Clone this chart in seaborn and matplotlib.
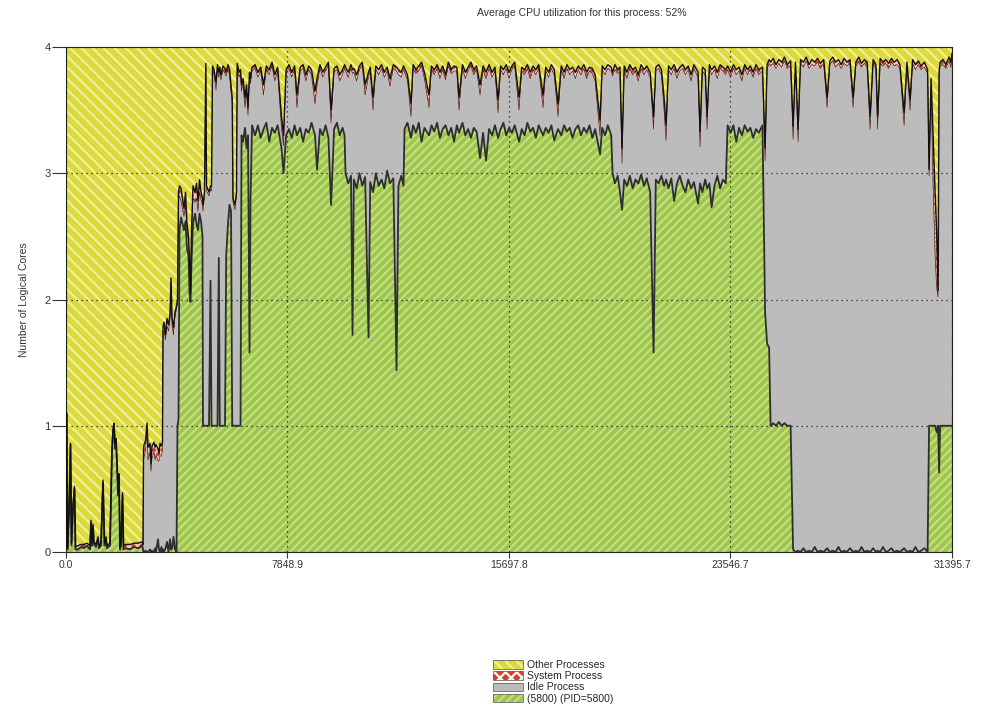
import numpy as np
import pandas as pd
import matplotlib
matplotlib.use("Agg")
import matplotlib.pyplot as plt
from matplotlib.patches import Patch
import seaborn as sns

# ---- data (time in s, values in logical cores) ----
# startup spikes / ramp-up / 1-core gaps / busy phases / idle tail
t_sec = (
    [0, 18, 53, 106, 159, 195, 248, 301, 337, 425,
     532, 638, 744, 851, 886, 921, 957, 992, 1063, 1134,
     1170, 1240, 1311, 1364, 1418, 1453, 1559, 1630, 1666, 1701,
     1737, 1772, 1807, 1843, 1878, 1914, 1949, 2002, 2038, 2126,
     2268, 2410, 2552, 2694]
    + [2729, 2747, 2764, 2817, 2871, 2906, 2977, 3012, 3048, 3119, 3154, 3190, 3260, 3296, 3331, 3384, 3420]
    + [3438, 3473, 3526, 3579, 3633, 3686, 3721, 3757, 3810, 3863, 3916]
    + [3951, 3987, 4022, 4076, 4129, 4182, 4235, 4288, 4341, 4377, 4412, 4448, 4501, 4572, 4625, 4678, 4731, 4784, 4837]
    + [4855, 4908, 4954, 4979, 5068, 5121, 5157, 5192, 5245, 5316,
       5369, 5415, 5451, 5493, 5564, 5635, 5677, 5741, 5794, 5848,
       5890, 5918, 5989, 6042, 6067, 6131, 6184, 6220, 6273, 6344,
       6397, 6450, 6503, 6539, 6592]
    + [6700, 6800, 6900, 7000, 7100, 7200, 7300, 7400, 7500, 7637, 7708, 7800, 7900, 8000, 8100, 8186, 8300,
       8400, 8500, 8600, 8700, 8825, 8895, 9000, 9100, 9200, 9300, 9392, 9500, 9600, 9700, 9800, 9870]
    + [9905, 10000, 10100, 10153, 10200, 10300, 10400, 10500, 10600, 10720, 10780, 10880, 10980, 11080,
       11180, 11280, 11380, 11480, 11600, 11712, 11780, 11880, 11960]
    + [11996, 12100, 12226, 12300, 12400, 12500, 12600, 12700, 12864, 12950,
       13050, 13150, 13250, 13350, 13450, 13550, 13650, 13750, 13850, 13928,
       14050, 14150, 14250, 14350, 14450, 14550, 14672, 14780, 14885, 14990,
       15100, 15200, 15310, 15400, 15500, 15600, 15700, 15800, 15900, 16054,
       16150, 16250, 16350, 16450, 16550, 16650, 16750, 16905, 17000, 17100,
       17200, 17300, 17436, 17550, 17650, 17750, 17850, 17950, 18050, 18150,
       18250, 18350, 18450, 18550, 18650, 18750, 18925, 19000, 19100, 19200,
       19320]
    + [19368, 19450, 19550, 19630, 19704, 19780, 19880, 19980, 20080, 20180,
       20280, 20380, 20480, 20580, 20700, 20821, 20900, 21000, 21100, 21193,
       21264, 21350, 21450, 21548, 21650, 21750, 21850, 21950, 22050, 22150,
       22250, 22398, 22469, 22550, 22650, 22717, 22800, 22877, 22980, 23080,
       23180, 23280, 23380]
    + [23444, 23550, 23650, 23750, 23850, 23950, 24050, 24150, 24250, 24350, 24450, 24550, 24680]
    + [24773, 24844, 24915, 24968, 25060, 25160, 25260, 25360, 25460, 25560,
       25677, 25765, 25850, 25942, 26030, 26130, 26230, 26330, 26430, 26530,
       26630, 26730, 26850, 26970, 27070, 27170, 27270, 27370, 27470, 27570,
       27670, 27780, 27891, 27990, 28090, 28190, 28290, 28390, 28494, 28600,
       28700, 28760, 28850, 28950, 29050, 29150, 29250, 29350, 29450, 29550,
       29699, 29800, 29911, 30000, 30100, 30200, 30300, 30420, 30531, 30584,
       30655, 30726, 30797, 30850, 30903, 30939, 30974, 31080, 31180, 31290,
       31360, 31395.7]
)

# (5800) (PID=5800) - cores used by the process itself
pid_5800 = (
    [0.00, 1.10, 0.02, 0.30, 0.85, 0.05, 0.35, 0.50, 0.02, 0.02,
     0.04, 0.03, 0.05, 0.02, 0.23, 0.05, 0.20, 0.06, 0.04, 0.10,
     0.03, 0.05, 0.55, 0.05, 0.10, 0.03, 0.05, 0.80, 0.95, 1.00,
     0.82, 0.88, 0.70, 0.45, 0.60, 0.02, 0.05, 0.45, 0.02, 0.03,
     0.02, 0.04, 0.03, 0.05]
    + [0.02, 0.00, 0.00, 0.01, 0.00, 0.00, 0.02, 0.00, 0.01, 0.00, 0.03, 0.00, 0.10, 0.02, 0.00, 0.04, 0.00]
    + [0.02, 0.00, 0.03, 0.08, 0.00, 0.10, 0.02, 0.03, 0.12, 0.02, 0.00]
    + [1.00, 1.05, 2.55, 2.65, 2.60, 2.55, 2.62, 2.40, 2.35, 2.05, 1.98, 2.30, 2.60, 2.68, 2.60, 2.55, 2.68, 2.62, 2.50]
    + [1.00, 1.00, 1.00, 1.00, 1.00, 2.15, 1.00, 1.00, 1.00, 1.00,
       1.00, 2.33, 1.00, 1.00, 1.00, 1.00, 2.35, 2.60, 2.75, 2.70,
       1.00, 1.00, 1.00, 1.00, 1.00, 1.00, 1.00, 3.30, 3.25, 3.36,
       3.20, 3.30, 1.58, 2.80, 3.38]
    + [3.30, 3.38, 3.28, 3.35, 3.40, 3.25, 3.36, 3.32, 3.38, 3.20, 3.00, 3.30, 3.35, 3.28, 3.38, 3.30, 3.36,
       3.25, 3.35, 3.32, 3.40, 3.30, 3.03, 3.35, 3.30, 3.38, 3.28, 2.75, 3.35, 3.40, 3.30, 3.36, 3.30]
    + [3.00, 2.92, 2.98, 1.72, 2.95, 2.88, 3.00, 2.90, 2.97, 1.70, 2.93, 2.85, 3.00, 2.90,
       2.95, 2.88, 3.02, 2.92, 2.96, 1.44, 2.90, 2.98, 2.90]
    + [3.35, 3.40, 3.28, 3.38, 3.32, 3.40, 3.25, 3.36, 3.30, 3.38,
       3.33, 3.40, 3.28, 3.35, 3.38, 3.30, 3.36, 3.25, 3.38, 3.32,
       3.40, 3.30, 3.35, 3.28, 3.36, 3.33, 3.12, 3.32, 3.10, 3.35,
       3.30, 3.38, 3.28, 3.35, 3.40, 3.30, 3.36, 3.32, 3.38, 3.25,
       3.35, 3.30, 3.40, 3.33, 3.36, 3.28, 3.38, 3.30, 3.36, 3.32,
       3.38, 3.26, 3.35, 3.30, 3.38, 3.33, 3.36, 3.28, 3.35, 3.38,
       3.30, 3.36, 3.32, 3.38, 3.28, 3.35, 3.15, 3.36, 3.30, 3.38,
       3.30]
    + [3.00, 2.92, 2.98, 2.85, 2.71, 2.95, 2.90, 2.98, 2.88, 2.95,
       2.92, 2.99, 2.90, 2.96, 2.85, 1.58, 2.95, 2.92, 2.98, 2.90,
       2.95, 2.88, 2.96, 2.78, 2.92, 2.98, 2.90, 2.85, 2.95, 2.88,
       2.93, 2.76, 2.92, 2.85, 2.95, 2.88, 2.92, 2.73, 2.90, 2.98,
       2.88, 2.95, 2.92]
    + [3.38, 3.32, 3.38, 3.25, 3.36, 3.30, 3.38, 3.33, 3.36, 3.28, 3.35, 3.32, 3.38]
    + [1.90, 1.65, 1.62, 1.00, 1.02, 1.00, 1.03, 1.00, 1.02, 1.00,
       1.00, 0.02, 0.00, 0.01, 0.00, 0.03, 0.00, 0.01, 0.00, 0.04,
       0.00, 0.01, 0.00, 0.03, 0.00, 0.01, 0.00, 0.04, 0.00, 0.01,
       0.00, 0.03, 0.00, 0.01, 0.00, 0.04, 0.00, 0.01, 0.00, 0.03,
       0.00, 0.01, 0.00, 0.04, 0.00, 0.01, 0.03, 0.00, 0.01, 0.00,
       0.03, 0.00, 0.01, 0.00, 0.04, 0.00, 0.01, 0.03, 0.00, 1.00,
       1.00, 1.00, 1.00, 0.95, 1.00, 0.63, 1.00, 1.00, 1.00, 1.00,
       1.00, 1.00]
)

# upper black line: process + idle + system (everything else is "Other Processes")
busy_top = (
    [0.02, 1.11, 0.04, 0.32, 0.86, 0.07, 0.37, 0.52, 0.04, 0.05,
     0.06, 0.06, 0.07, 0.05, 0.25, 0.07, 0.22, 0.08, 0.06, 0.12,
     0.05, 0.07, 0.57, 0.07, 0.12, 0.05, 0.07, 0.82, 0.97, 1.02,
     0.85, 0.90, 0.72, 0.47, 0.62, 0.04, 0.07, 0.47, 0.05, 0.06,
     0.06, 0.07, 0.07, 0.08]
    + [0.06, 0.80, 0.85, 0.88, 1.02, 0.83, 0.86, 0.70, 0.84, 0.87, 0.83, 0.85, 0.82, 0.78, 0.86, 0.84, 0.87]
    + [1.78, 1.82, 1.72, 1.85, 1.80, 1.88, 2.17, 1.85, 1.78, 1.90, 1.95]
    + [2.00, 2.85, 2.90, 2.88, 2.80, 2.72, 2.85, 2.60, 2.50, 2.30, 2.05, 2.55, 2.90, 2.85, 2.92, 2.78, 2.95, 2.85, 2.80]
    + [2.75, 2.85, 3.87, 2.90, 2.85, 2.90, 2.90, 3.85, 3.82, 3.72,
       3.86, 3.80, 3.84, 3.78, 3.85, 3.83, 3.80, 3.86, 3.82, 3.70,
       3.60, 2.80, 2.75, 2.85, 3.87, 3.80, 3.82, 3.70, 3.75, 3.60,
       3.70, 3.52, 3.80, 3.75, 3.84]
    + [3.86, 3.80, 3.84, 3.70, 3.85, 3.82, 3.88, 3.78, 3.84, 3.45, 3.30, 3.82, 3.86, 3.80, 3.85, 3.62, 3.84,
       3.86, 3.78, 3.85, 3.82, 3.65, 3.75, 3.86, 3.80, 3.84, 3.88, 3.50, 3.83, 3.85, 3.78, 3.82, 3.86]
    + [3.84, 3.80, 3.86, 3.82, 3.83, 3.78, 3.85, 3.88, 3.70, 3.80, 3.84, 3.60, 3.85, 3.82,
       3.86, 3.80, 3.84, 3.75, 3.86, 3.84, 3.82, 3.80, 3.85]
    + [3.83, 3.78, 3.55, 3.86, 3.82, 3.85, 3.88, 3.80, 3.62, 3.85,
       3.82, 3.86, 3.80, 3.85, 3.78, 3.88, 3.82, 3.85, 3.84, 3.60,
       3.86, 3.80, 3.84, 3.88, 3.82, 3.85, 3.70, 3.85, 3.80, 3.86,
       3.80, 3.84, 3.58, 3.85, 3.82, 3.86, 3.80, 3.85, 3.88, 3.60,
       3.84, 3.82, 3.86, 3.80, 3.85, 3.82, 3.86, 3.62, 3.84, 3.80,
       3.86, 3.82, 3.55, 3.85, 3.80, 3.86, 3.82, 3.84, 3.80, 3.85,
       3.82, 3.86, 3.80, 3.84, 3.83, 3.78, 3.42, 3.85, 3.82, 3.86,
       3.84]
    + [3.80, 3.86, 3.82, 3.84, 3.20, 3.85, 3.80, 3.86, 3.82, 3.84,
       3.78, 3.86, 3.82, 3.85, 3.80, 3.45, 3.84, 3.86, 3.82, 3.60,
       3.38, 3.85, 3.82, 3.86, 3.80, 3.84, 3.86, 3.82, 3.85, 3.78,
       3.86, 3.80, 3.33, 3.84, 3.82, 3.45, 3.86, 3.82, 3.85, 3.80,
       3.86, 3.84, 3.82]
    + [3.85, 3.80, 3.86, 3.82, 3.84, 3.78, 3.86, 3.82, 3.85, 3.80, 3.86, 3.82, 3.84]
    + [3.20, 3.86, 3.90, 3.88, 3.91, 3.86, 3.90, 3.88, 3.92, 3.86,
       3.89, 3.37, 3.88, 3.35, 3.90, 3.88, 3.92, 3.86, 3.90, 3.88,
       3.91, 3.87, 3.90, 3.60, 3.89, 3.92, 3.88, 3.90, 3.86, 3.91,
       3.88, 3.90, 3.60, 3.88, 3.92, 3.87, 3.90, 3.88, 3.45, 3.90,
       3.86, 3.45, 3.91, 3.88, 3.90, 3.87, 3.91, 3.88, 3.90, 3.86,
       3.48, 3.88, 3.58, 3.90, 3.86, 3.89, 3.85, 3.88, 3.82, 3.03,
       3.75, 3.30, 2.85, 2.55, 2.07, 3.80, 3.88, 3.90, 3.86, 3.92,
       3.88, 3.95]
)

# System Process (thin red band just under the black line)
system_proc = (
    [0.02, 0.01, 0.02, 0.02, 0.01, 0.02, 0.02, 0.02, 0.02, 0.03,
     0.02, 0.03, 0.02, 0.03, 0.02, 0.02, 0.02, 0.02, 0.02, 0.02,
     0.02, 0.02, 0.02, 0.02, 0.02, 0.02, 0.02, 0.02, 0.02, 0.02,
     0.03, 0.02, 0.02, 0.02, 0.02, 0.02, 0.02, 0.02, 0.03, 0.03,
     0.04, 0.03, 0.04, 0.03]
    + [0.04, 0.08, 0.10, 0.08, 0.06, 0.10, 0.08, 0.06, 0.10, 0.08, 0.10, 0.08, 0.10, 0.06, 0.10, 0.08, 0.06]
    + [0.05, 0.06, 0.04, 0.06, 0.05, 0.04, 0.03, 0.05, 0.06, 0.04, 0.03]
    + [0.03, 0.06, 0.08, 0.10, 0.08, 0.06, 0.10, 0.05, 0.04, 0.03, 0.02, 0.04, 0.10, 0.08, 0.12, 0.08, 0.10, 0.06, 0.05]
    + [0.05, 0.04, 0.03, 0.04, 0.03, 0.03, 0.04, 0.03, 0.04, 0.06,
       0.03, 0.04, 0.03, 0.04, 0.03, 0.04, 0.03, 0.03, 0.04, 0.05,
       0.04, 0.03, 0.04, 0.03, 0.03, 0.04, 0.03, 0.05, 0.04, 0.08,
       0.05, 0.06, 0.04, 0.04, 0.03]
    + [0.03, 0.04, 0.03, 0.08, 0.03, 0.04, 0.03, 0.05, 0.03, 0.10, 0.08, 0.03, 0.03, 0.04, 0.03, 0.10, 0.03,
       0.03, 0.05, 0.03, 0.04, 0.10, 0.06, 0.03, 0.04, 0.03, 0.03, 0.10, 0.03, 0.03, 0.05, 0.04, 0.03]
    + [0.03, 0.04, 0.03, 0.03, 0.03, 0.05, 0.03, 0.03, 0.08, 0.04, 0.03, 0.10, 0.03, 0.04,
       0.03, 0.04, 0.03, 0.06, 0.03, 0.03, 0.04, 0.04, 0.03]
    + [0.03, 0.04, 0.10, 0.03, 0.03, 0.04, 0.03, 0.05, 0.10, 0.03,
       0.04, 0.03, 0.05, 0.03, 0.04, 0.03, 0.03, 0.04, 0.03, 0.10,
       0.03, 0.05, 0.03, 0.03, 0.04, 0.03, 0.08, 0.03, 0.05, 0.03,
       0.04, 0.03, 0.10, 0.03, 0.04, 0.03, 0.05, 0.03, 0.03, 0.10,
       0.03, 0.04, 0.03, 0.05, 0.03, 0.04, 0.03, 0.10, 0.03, 0.04,
       0.03, 0.04, 0.10, 0.03, 0.05, 0.03, 0.04, 0.03, 0.05, 0.03,
       0.04, 0.03, 0.05, 0.03, 0.04, 0.05, 0.12, 0.03, 0.04, 0.03,
       0.03]
    + [0.03, 0.04, 0.03, 0.04, 0.12, 0.03, 0.05, 0.03, 0.04, 0.03,
       0.05, 0.03, 0.04, 0.03, 0.04, 0.10, 0.03, 0.03, 0.04, 0.10,
       0.12, 0.03, 0.04, 0.03, 0.05, 0.03, 0.03, 0.04, 0.03, 0.05,
       0.03, 0.04, 0.12, 0.03, 0.04, 0.10, 0.03, 0.04, 0.03, 0.05,
       0.03, 0.03, 0.04]
    + [0.03, 0.04, 0.03, 0.04, 0.03, 0.05, 0.03, 0.04, 0.03, 0.04, 0.03, 0.04, 0.03]
    + [0.10, 0.04, 0.03, 0.03, 0.04, 0.03, 0.03, 0.04, 0.03, 0.03,
       0.04, 0.10, 0.03, 0.10, 0.03, 0.04, 0.03, 0.03, 0.04, 0.03,
       0.03, 0.04, 0.03, 0.08, 0.03, 0.03, 0.04, 0.03, 0.03, 0.04,
       0.03, 0.03, 0.08, 0.03, 0.04, 0.03, 0.03, 0.04, 0.10, 0.03,
       0.03, 0.10, 0.04, 0.03, 0.03, 0.04, 0.03, 0.03, 0.04, 0.03,
       0.10, 0.03, 0.08, 0.03, 0.04, 0.03, 0.03, 0.04, 0.03, 0.05,
       0.05, 0.40, 0.50, 0.45, 0.05, 0.03, 0.03, 0.04, 0.03, 0.03,
       0.04, 0.03]
)

assert len(t_sec) == len(pid_5800) == len(busy_top) == len(system_proc), \
    (len(t_sec), len(pid_5800), len(busy_top), len(system_proc))

x_ticks = [0.0, 7848.9, 15697.8, 23546.7, 31395.7]
n_cores = 4
title = "Average CPU utilization for this process: 52%"
series_names = ["Other Processes", "System Process", "Idle Process", "(5800) (PID=5800)"]

df = pd.DataFrame({"t": t_sec, "pid": pid_5800, "top": busy_top, "sys": system_proc})
df["idle"] = (df["top"] - df["pid"] - df["sys"]).clip(lower=0)
df["idle_top"] = df["pid"] + df["idle"]
df["sys_top"] = df["idle_top"] + df["sys"]

sns.set_style("white")
plt.rcParams["font.family"] = ["Liberation Sans", "DejaVu Sans"]
plt.rcParams["hatch.linewidth"] = 1.6

yellow, yellow_h = "#dcd93a", "#f1ef9c"
red, red_h = "#d8402a", "#f6c8c0"
grey = "#bcbcbc"
green, green_h = "#9ec64a", "#c3de84"

fig = plt.figure(figsize=(9.86, 7.13), dpi=100)
ax = fig.add_axes([66 / 986, 1 - 552 / 713, 886 / 986, 505 / 713])

ax.fill_between(df.t, df.sys_top, n_cores, facecolor=yellow, edgecolor=yellow_h,
                hatch="\\\\\\", lw=0, zorder=1)
ax.fill_between(df.t, df.idle_top, df.sys_top, facecolor=red, edgecolor=red_h,
                hatch="xxxx", lw=0, zorder=1)
ax.fill_between(df.t, df.pid, df.idle_top, facecolor=grey, lw=0, zorder=1)
ax.fill_between(df.t, 0, df.pid, facecolor=green, edgecolor=green_h,
                hatch="////", lw=0, zorder=1)

sns.lineplot(data=df, x="t", y="idle_top", color="#5a1810", lw=0.5, estimator=None, ax=ax, zorder=3)
sns.lineplot(data=df, x="t", y="pid", color="#2e2e2e", lw=1.3, estimator=None, ax=ax, zorder=3)
sns.lineplot(data=df, x="t", y="sys_top", color="#111111", lw=1.0, estimator=None, ax=ax, zorder=4)

ax.set_xlim(0, x_ticks[-1])
ax.set_ylim(0, n_cores)
ax.set_xticks(x_ticks)
ax.set_xticklabels([f"{v:.1f}" for v in x_ticks])
ax.set_yticks(range(n_cores + 1))
ax.grid(True, color="#222222", linestyle=(0, (1, 3)), lw=0.9, zorder=2)
ax.set_axisbelow(False)
ax.tick_params(axis="y", left=True, direction="out", length=10, width=0.8, pad=1,
               labelsize=8, colors="#333333")
ax.tick_params(axis="x", bottom=True, direction="out", length=4, width=0.8, pad=2,
               labelsize=7.5, colors="#333333")
for s in ax.spines.values():
    s.set_color("#222222")
    s.set_linewidth(0.8)

ax.set_xlabel("")
ax.set_ylabel("Number of Logical Cores", fontsize=7.5, color="#333333")
ax.yaxis.set_label_coords(-0.042, 0.5)

fig.text(582 / 986, 1 - 13 / 713, title, ha="center", va="center", fontsize=7.5, color="#333333")

handles = [
    (Patch(facecolor=yellow, edgecolor=yellow_h, hatch="\\\\\\", lw=0), Patch(fill=False, edgecolor="#666666", lw=0.6)),
    (Patch(facecolor=red, edgecolor="#ffffff", hatch="xxx", lw=0), Patch(fill=False, edgecolor="#666666", lw=0.6)),
    (Patch(facecolor=grey, lw=0), Patch(fill=False, edgecolor="#666666", lw=0.6)),
    (Patch(facecolor=green, edgecolor=green_h, hatch="////", lw=0), Patch(fill=False, edgecolor="#666666", lw=0.6)),
]
fig.legend(handles, series_names, loc="upper left", bbox_to_anchor=(493 / 986, 1 - 660 / 713),
           frameon=False, fontsize=7.5, handlelength=2.9, handleheight=0.85,
           handletextpad=0.4, labelspacing=0.12, borderpad=0, borderaxespad=0)

fig.savefig("out.png", dpi=100)
